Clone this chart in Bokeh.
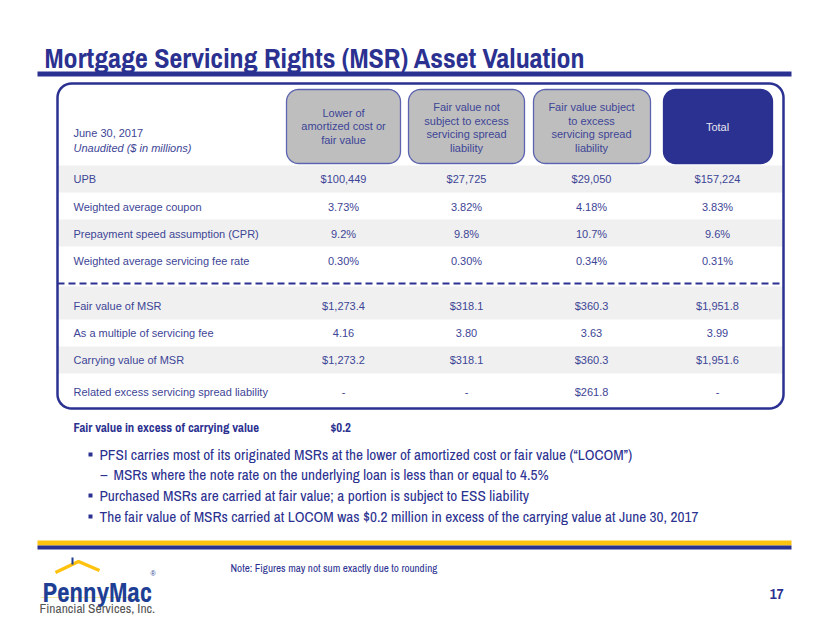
import numpy as np
from bokeh.plotting import figure
from bokeh.models import Range1d
from bokeh.core.properties import value
from bokeh.embed import file_html
from bokeh.resources import INLINE

# ---------------- content ----------------
title_text = "Mortgage Servicing Rights (MSR) Asset Valuation"
date_label = "June 30, 2017"
unit_label = "Unaudited  ($ in millions)"
col_headers = [
    "Lower of\namortized cost or\nfair value",
    "Fair value not\nsubject to excess\nservicing spread\nliability",
    "Fair value subject\nto excess\nservicing spread\nliability",
    "Total",
]
row_labels = [
    "UPB",
    "Weighted average coupon",
    "Prepayment speed assumption (CPR)",
    "Weighted average servicing fee rate",
    "Fair value of MSR",
    "As a multiple of servicing fee",
    "Carrying value of MSR",
    "Related excess servicing spread liability",
]
lower_cost = ["$100,449", "3.73%", "9.2%", "0.30%", "$1,273.4", "4.16", "$1,273.2", "-"]
fv_not_ess = ["$27,725", "3.82%", "9.8%", "0.30%", "$318.1", "3.80", "$318.1", "-"]
fv_ess = ["$29,050", "4.18%", "10.7%", "0.34%", "$360.3", "3.63", "$360.3", "$261.8"]
total_vals = ["$157,224", "3.83%", "9.6%", "0.31%", "$1,951.8", "3.99", "$1,951.6", "-"]
excess_label = "Fair value in excess of carrying value"
excess_value = "$0.2"
bullets = [
    "PFSI carries most of its originated MSRs at the lower of amortized cost or fair value (\u201cLOCOM\u201d)",
    "MSRs where the note rate on the underlying loan is less than or equal to 4.5%",
    "Purchased MSRs are carried at fair value; a portion is subject to ESS liability",
    "The fair value of MSRs carried at LOCOM was $0.2 million in excess of the carrying value at June 30, 2017",
]
bullet_levels = [0, 1, 0, 0]
note_text = "Note: Figures may not sum exactly due to rounding"
page_no = "17"
logo_name = "PennyMac"
logo_sub = "Financial Services, Inc."

# ---------------- layout / style ----------------
NAVY = "#2B3190"
TXT = "#3D4596"
GRAYBOX = "#BEBEBE"
BAND = "#F0F0F0"
YELLOW = "#FFC20E"
LOGO_BLUE = "#1E3F94"
SANS = "'Liberation Sans', Arial, sans-serif"
NARROW = "'Archivo Narrow', 'Liberation Sans Narrow', sans-serif"

row_y = [178, 206, 233, 260, 305, 332, 359, 391]
band_rows = [(165, 192), (219, 246), (286, 319), (346, 373)]
col_x = [343, 466, 591, 717]
box_lr = [(286, 400), (408, 524), (533, 650), (663, 772)]
box_tb = (89, 163)
outer = (57, 783, 83, 408)

W, H = 830, 623
p = figure(width=W, height=H, x_range=Range1d(0, W), y_range=Range1d(H, 0),
           output_backend="svg", toolbar_location=None, min_border=0)
p.axis.visible = False
p.grid.visible = False
p.outline_line_color = None
p.background_fill_color = "white"
p.border_fill_color = "white"


def rrect(x0, x1, y0, y1, r, n=10):
    xs, ys = [], []
    corners = [((x0 + r, y0 + r), 180, 270), ((x1 - r, y0 + r), 270, 360),
               ((x1 - r, y1 - r), 0, 90), ((x0 + r, y1 - r), 90, 180)]
    for (cx, cy), a0, a1 in corners:
        t = np.radians(np.linspace(a0, a1, n))
        xs.extend(cx + r * np.cos(t))
        ys.extend(cy + r * np.sin(t))
    return xs, ys


# title + rule
p.text(x=[44], y=[57], text=[title_text], text_font=value(NARROW), text_font_style="bold",
       text_font_size="28px", text_color=NAVY, text_baseline="alphabetic", text_align="left")
p.quad(left=[37], right=[791], top=[71], bottom=[76], fill_color=NAVY, line_color=None)

# shaded bands
p.quad(left=[outer[0] + 1] * len(band_rows), right=[outer[1] - 1] * len(band_rows),
       top=[b[0] for b in band_rows], bottom=[b[1] for b in band_rows],
       fill_color=BAND, line_color=None)

# outer rounded box
ox, oy = rrect(outer[0], outer[1], outer[2], outer[3], 14)
p.patch(ox + [ox[0]], oy + [oy[0]], fill_color=None, line_color=NAVY, line_width=2.5)

# dashed separator
p.line([outer[0], outer[1]], [283, 283], line_color=NAVY, line_width=2, line_dash="7 4")

# header boxes
for i, (l, r) in enumerate(box_lr):
    bx, by = rrect(l, r, box_tb[0], box_tb[1], 12)
    last = i == len(box_lr) - 1
    p.patch(bx, by, fill_color=NAVY if last else GRAYBOX,
            line_color=NAVY if last else "#5C64B0", line_width=1.3)
p.text(x=col_x, y=[126, 127, 127, 126], text=col_headers, text_font=value(SANS),
       text_font_size="11px", text_color=[TXT, TXT, TXT, "#E6E6F2"],
       text_align="center", text_baseline="middle", text_line_height=1.15)

# corner labels
p.text(x=[73], y=[132], text=[date_label], text_font=value(SANS), text_font_size="11px",
       text_color=TXT, text_baseline="middle")
p.text(x=[73], y=[147], text=[unit_label], text_font=value(SANS), text_font_size="11px",
       text_font_style="italic", text_color=TXT, text_baseline="middle")

# row labels and values
p.text(x=[73] * len(row_labels), y=row_y, text=row_labels, text_font=value(SANS),
       text_font_size="11px", text_color=TXT, text_baseline="middle")
for cx, vals in zip(col_x, [lower_cost, fv_not_ess, fv_ess, total_vals]):
    p.text(x=[cx] * len(vals), y=row_y, text=vals, text_font=value(SANS),
           text_font_size="11px", text_color=TXT, text_align="center", text_baseline="middle")

# excess line
p.text(x=[73, 330], y=[427, 427], text=[excess_label, excess_value], text_font=value(NARROW),
       text_font_style="bold", text_font_size="12.8px", text_color=NAVY, text_baseline="middle")

# bullets
bullet_y = [454, 474, 495, 516]
txt_x = [99 if lv == 0 else 113 for lv in bullet_levels]
p.text(x=txt_x, y=bullet_y, text=bullets, text_font=value(NARROW), text_font_size="15.3px",
       text_color=NAVY, text_baseline="middle")
sq_y = [y for y, lv in zip(bullet_y, bullet_levels) if lv == 0]
p.scatter(x=[90] * len(sq_y), y=sq_y, marker="square", size=4, fill_color=NAVY, line_color=None)
dash_y = [y for y, lv in zip(bullet_y, bullet_levels) if lv == 1]
p.text(x=[100] * len(dash_y), y=dash_y, text=["\u2013"] * len(dash_y), text_font=value(NARROW),
       text_font_size="15px", text_color=NAVY, text_baseline="middle")

# footer stripes
p.quad(left=[37], right=[791], top=[540], bottom=[545], fill_color=YELLOW, line_color=None)
p.quad(left=[37], right=[791], top=[545], bottom=[549], fill_color=NAVY, line_color=None)

# note + page number
p.text(x=[230], y=[567], text=[note_text], text_font=value(NARROW), text_font_size="11.1px",
       text_color=NAVY, text_baseline="middle")
p.text(x=[783], y=[593], text=[page_no], text_font=value(NARROW), text_font_style="bold",
       text_font_size="15px", text_color=NAVY, text_baseline="middle", text_align="right")

# logo
p.line([55, 78, 99], [572, 561, 570], line_color=YELLOW, line_width=3.5)
p.line([72, 72], [557, 564], line_color=LOGO_BLUE, line_width=2)
p.line([40, 140], [597, 597], line_color="#F6E7A6", line_width=1)
p.text(x=[42], y=[591], text=[logo_name], text_font=value(NARROW), text_font_size="27px",
       text_font_style="bold", text_color=LOGO_BLUE, text_baseline="alphabetic")
p.text(x=[150], y=[573], text=["\u00ae"], text_font=value(SANS), text_font_size="7px",
       text_color=LOGO_BLUE, text_baseline="middle")
p.text(x=[39], y=[607], text=[logo_sub], text_font=value(NARROW), text_font_size="13.5px",
       text_color="#555555", text_baseline="middle")

open("out.html", "w").write(file_html(p, INLINE))
